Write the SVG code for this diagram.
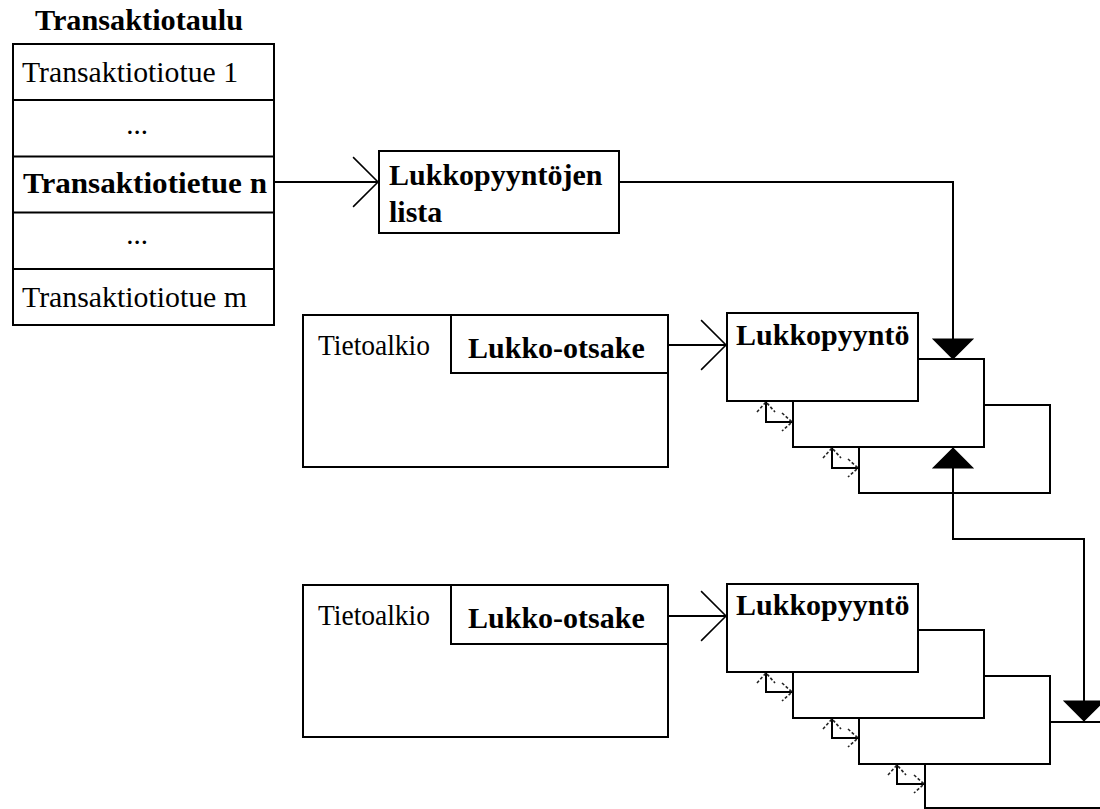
<svg xmlns="http://www.w3.org/2000/svg" width="1100" height="809" viewBox="0 0 1100 809">
  <style>
    .box { fill: #fff; stroke: #000; stroke-width: 2; }
    .ln { fill: none; stroke: #000; stroke-width: 2; }
    .reg { font-family: "Liberation Serif", "Times New Roman", serif; font-size: 29px; fill: #000; }
    .bold { font-family: "Liberation Serif", "Times New Roman", serif; font-size: 30px; font-weight: bold; fill: #000; }
  </style>
  <defs>
    <marker id="open" markerUnits="userSpaceOnUse" markerWidth="30" markerHeight="54" viewBox="-26 -26 28 52" refX="0" refY="0" orient="auto">
      <path d="M-24,-24 L0,0 L-24,24" fill="none" stroke="#000" stroke-width="1.5"/>
    </marker>
    <marker id="solid" markerUnits="userSpaceOnUse" markerWidth="24" markerHeight="44" viewBox="-21 -21 22 42" refX="0" refY="0" orient="auto-start-reverse">
      <path d="M0,0 L-19,-19 L-19,19 Z" fill="#000" stroke="#000" stroke-width="1"/>
    </marker>
    <marker id="small" markerUnits="userSpaceOnUse" markerWidth="14" markerHeight="24" viewBox="-12 -12 13 24" refX="0" refY="0" orient="auto-start-reverse">
      <path d="M-10,-9 L0,0 L-10,9" fill="none" stroke="#222" stroke-width="1.6" stroke-dasharray="3 2"/>
    </marker>
  </defs>

  <!-- transaction table -->
  <g id="transaktiotaulu">
    <text class="bold" x="35" y="30" textLength="208" lengthAdjust="spacingAndGlyphs">Transaktiotaulu</text>
    <rect class="box" x="13" y="44" width="261" height="281"/>
    <path class="ln" d="M13,100 H274 M13,156.5 H274 M13,212.5 H274 M13,269 H274"/>
    <text class="reg" x="22" y="82" textLength="216" lengthAdjust="spacingAndGlyphs">Transaktiotiotue 1</text>
    <text class="reg" x="137" y="134" text-anchor="middle">...</text>
    <text class="bold" x="23" y="193" textLength="244" lengthAdjust="spacingAndGlyphs">Transaktiotietue n</text>
    <text class="reg" x="137" y="244" text-anchor="middle">...</text>
    <text class="reg" x="22" y="307" textLength="225" lengthAdjust="spacingAndGlyphs">Transaktiotiotue m</text>
  </g>

  <!-- lock request list -->
  <g id="lukkopyyntojen-lista">
    <rect class="box" x="379" y="151" width="240" height="82"/>
    <text class="bold" x="389" y="185">Lukkopyyntöjen</text>
    <text class="bold" x="389" y="222">lista</text>
  </g>

  <!-- data items with lock headers -->
  <g id="tietoalkio-1">
    <rect class="box" x="303" y="315" width="365" height="152"/>
    <rect class="box" x="451" y="315" width="217" height="58"/>
    <text class="reg" x="318" y="355" textLength="112" lengthAdjust="spacingAndGlyphs">Tietoalkio</text>
    <text class="bold" x="468" y="358">Lukko-otsake</text>
  </g>
  <g id="tietoalkio-2">
    <rect class="box" x="303" y="585" width="365" height="152"/>
    <rect class="box" x="451" y="585" width="217" height="59"/>
    <text class="reg" x="318" y="625" textLength="112" lengthAdjust="spacingAndGlyphs">Tietoalkio</text>
    <text class="bold" x="468" y="628">Lukko-otsake</text>
  </g>

  <!-- first stack of lock requests (back to front) -->
  <g id="pyynto-1c"><rect class="box" x="859" y="405" width="191" height="88"/></g>
  <g id="pyynto-1b"><rect class="box" x="793" y="359" width="191" height="88"/></g>
  <g id="pyynto-1a">
    <rect class="box" x="727" y="313" width="191" height="88"/>
    <text class="bold" x="736" y="345">Lukkopyyntö</text>
  </g>

  <!-- second stack of lock requests (back to front) -->
  <g id="pyynto-2d"><rect class="box" x="925" y="722" width="191" height="86"/></g>
  <g id="pyynto-2c"><rect class="box" x="859" y="676" width="191" height="88"/></g>
  <g id="pyynto-2b"><rect class="box" x="793" y="630" width="191" height="88"/></g>
  <g id="pyynto-2a">
    <rect class="box" x="727" y="584" width="191" height="88"/>
    <text class="bold" x="736" y="615">Lukkopyyntö</text>
  </g>

  <!-- connectors -->
  <g id="connectors">
    <path class="ln" d="M274,182 H378" marker-end="url(#open)"/>
    <path class="ln" d="M668,345 H726" marker-end="url(#open)"/>
    <path class="ln" d="M668,616 H726" marker-end="url(#open)"/>
    <path class="ln" d="M619,182 H953 V359" marker-end="url(#solid)"/>
    <path class="ln" d="M953,448 V539 H1084 V721" marker-start="url(#solid)" marker-end="url(#solid)"/>

    <!-- links between consecutive requests -->
    <path class="ln" d="M766,402 V422 H792" marker-start="url(#small)" marker-end="url(#small)"/>
    <path class="ln" d="M832,448 V468 H858" marker-start="url(#small)" marker-end="url(#small)"/>
    <path class="ln" d="M766,673 V692 H792" marker-start="url(#small)" marker-end="url(#small)"/>
    <path class="ln" d="M832,719 V738 H858" marker-start="url(#small)" marker-end="url(#small)"/>
    <path class="ln" d="M897,765 V784 H924" marker-start="url(#small)" marker-end="url(#small)"/>
  </g>
</svg>
